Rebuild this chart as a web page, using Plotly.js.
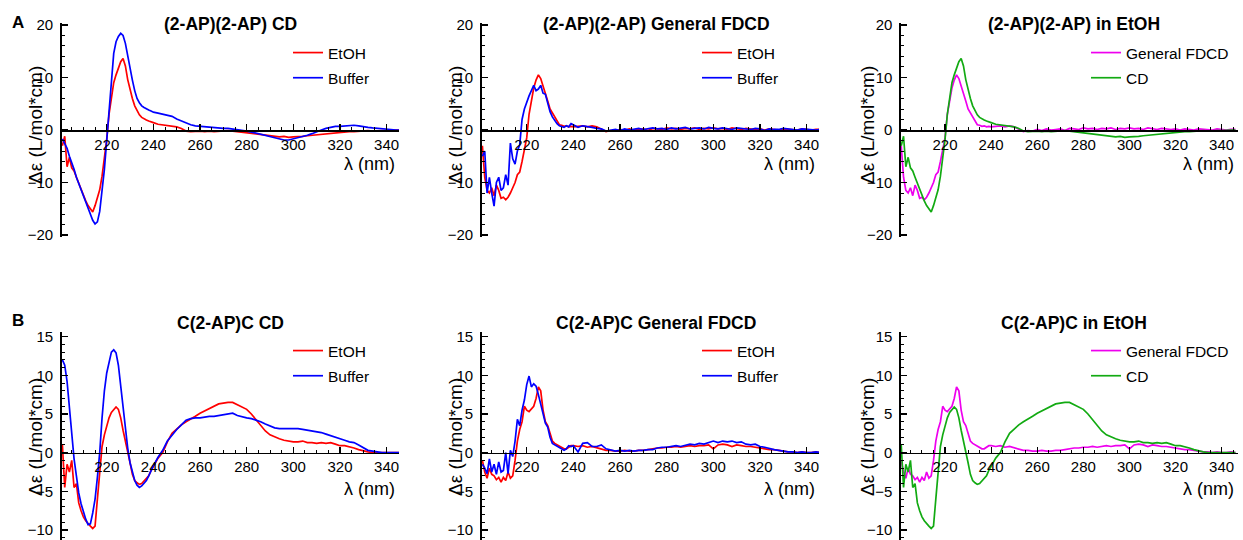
<!DOCTYPE html>
<html><head><meta charset="utf-8">
<script src="https://cdn.plot.ly/plotly-3.0.1.min.js"></script>
<style>html,body{margin:0;padding:0;background:#fff}#chart{width:1243px;height:540px}</style>
</head><body><div id="chart"></div>
<script>
// ---------- DATA ----------
const wavelength = [201,202,203,204,205,206,207,208,209,210,211,212,213,214,215,216,217,218,219,220,
  221,222,223,224,225,226,227,228,229,230,231,232,233,234,235,236,237,238,239,240,
  242,244,246,248,250,252,254,256,258,260,262,264,266,268,270,272,274,276,278,280,
  282,284,286,288,290,292,294,296,298,300,302,304,306,308,310,312,314,316,318,320,
  322,324,326,328,330,332,334,336,338,340,342,344,346];

// (2-AP)(2-AP) CD
const ap2_CD_EtOH = [-3,-1.2,-7,-5.2,-7.2,-7.8,-9,-10.2,-11.4,-12.5,-13.5,-14.4,-15.1,-15.6,-14.4,-13,-11.4,-8.8,-5.4,-1.8,
  3,6.5,9,10.5,11.8,13,13.6,12.2,9.6,7.5,6,4.6,3.6,2.9,2.4,2.1,1.9,1.7,1.5,1.4,
  1.1,1.0,0.9,0.8,0.6,0.3,-0.2,-0.3,-0.2,-0.2,-0.3,-0.2,-0.3,-0.2,-0.2,-0.1,-0.2,-0.3,-0.4,-0.5,
  -0.7,-0.8,-0.9,-1.0,-1.1,-1.2,-1.3,-1.2,-1.4,-1.3,-1.3,-1.2,-1.1,-1.0,-0.9,-0.8,-0.7,-0.6,-0.5,-0.4,
  -0.3,-0.3,-0.3,-0.2,-0.2,-0.1,-0.2,-0.1,-0.1,-0.1,0,0,0];
const ap2_CD_Buffer = [-1.7,-2.5,-3.5,-5,-6.5,-7.5,-9,-10.2,-11.3,-12.3,-13.5,-15,-16.3,-17.2,-17.9,-17.5,-15.5,-12,-7.5,-2,
  4,10,14.6,16.8,17.8,18.4,18,16.5,14,12,9.5,7.5,6,5.2,4.6,4.3,4,3.8,3.6,3.4,
  3.2,3.0,2.9,2.6,2.1,1.7,1.3,1.0,0.8,0.7,0.6,0.6,0.5,0.4,0.3,0.3,0.2,0.1,0,-0.2,
  -0.4,-0.6,-0.9,-1.1,-1.3,-1.5,-1.7,-1.9,-1.9,-1.7,-1.5,-1.2,-1.0,-0.7,-0.3,0,0.3,0.5,0.7,0.7,
  0.8,0.8,0.9,0.8,0.6,0.5,0.4,0.3,0.3,0.2,0.1,0,0];

// (2-AP)(2-AP) General FDCD
const ap2_FDCD_EtOH = [-3,-9,-11.5,-12,-11,-12.5,-10.5,-11.5,-13,-12.8,-13.3,-12.8,-12,-11,-10,-8.5,-8,-6,-4,-1.5,
  3,5.5,8,9.5,10.5,9.8,8.5,7,5.5,4,3.2,2.5,1.8,1.0,0.9,0.7,0.8,0.6,0.7,0.6,
  0.7,0.8,0.6,0.8,0.6,0.1,-0.3,-0.1,-0.2,0.1,-0.1,0.2,0,0.1,0.2,-0.1,0.3,0.2,0.1,0.4,
  0.2,0.3,0.1,0.3,0.2,0.4,0.1,0.3,0.2,0.4,0.2,0.3,0.1,0.4,0.2,0.1,0.3,0.2,0.1,0.2,
  0,0.2,0.1,0,0.2,0.1,0.1,0,0.2,0.1,0,0.1,0.1];
const ap2_FDCD_Buffer = [-5,-4,-12,-9,-12,-14.5,-10,-9,-11.5,-11,-8.5,-10.5,-2.5,-5.5,-6.5,-4,-2.8,2,4,5.5,
  6.5,7.5,8.5,7.5,7.8,8.5,7,6.8,5,3.5,2.5,1.8,1.2,0.8,0.6,0.5,0.8,0.6,1.2,1.0,
  0.5,0.8,0.7,0.5,0.3,0.2,-0.2,-0.1,0.1,-0.1,0.2,0,0.1,0.3,0.1,0.2,0.4,0.2,0.3,0.1,
  0.4,0.2,0.3,0.5,0.2,0.3,0.4,0.2,0.5,0.3,0.2,0.4,0.3,0.1,0.4,0.3,0.2,0.1,0.3,0.2,
  -0.1,0.2,0.1,0.1,0.3,0.2,0.1,0,0.2,0.1,0.1,0,0.1];

// C(2-AP)C CD
const c2c_CD_EtOH = [1,-4.5,-1.5,-2.5,-1,-4.5,-4,-6.5,-7.5,-8.3,-8.8,-9.2,-9.5,-9.8,-9.5,-6,-2,0.8,2.3,3.4,
  4.5,5.2,5.6,5.9,5.6,4.5,2.9,1.6,0.3,-1.3,-2.8,-3.6,-3.9,-4.1,-4.0,-3.7,-3.4,-3.0,-2.3,-1.7,
  -0.7,0,1.4,2.5,3.1,3.6,4.0,4.3,4.7,5.1,5.4,5.7,6.0,6.3,6.4,6.5,6.5,6.2,5.9,5.6,
  5.0,4.3,3.5,2.8,2.3,2.0,1.8,1.6,1.5,1.4,1.4,1.5,1.3,1.3,1.2,1.3,1.2,1.3,1.1,0.9,
  0.9,0.8,0.6,0.4,0.2,0.1,0,0,0,0,0,0,0];
const c2c_CD_Buffer = [12,11.3,9.2,5.8,2.1,-0.8,-3,-5.2,-6.6,-7.7,-8.6,-9.3,-9.2,-7.8,-6,-3.2,0,4.5,8,10.3,
  11.9,13,13.3,12.9,11.3,8.5,5.6,3,0.6,-1.3,-2.6,-3.6,-4.2,-4.5,-4.3,-3.9,-3.6,-3.0,-2.3,-1.7,
  -0.6,0.3,1.5,2.3,3.0,3.6,4.2,4.4,4.5,4.5,4.6,4.7,4.7,4.8,4.9,5.0,5.1,4.8,4.6,4.5,
  4.4,4.2,4.0,3.7,3.4,3.2,3.1,3.1,3.1,3.1,3.1,3.0,2.9,2.8,2.7,2.6,2.4,2.2,1.9,1.8,
  1.6,1.4,1.3,1.0,0.6,0.3,0.2,0.1,0,0,0,0,0];

// C(2-AP)C General FDCD
const c2c_FDCD_EtOH = [-1,-2.5,-3.3,-2,-2.8,-3,-3.5,-3.2,-3.8,-3.2,-3.6,-2.5,-3.3,-3,-1,1.5,3,4,6,5.5,
  5.3,5.6,6,7,8.5,8,5.5,4,3.5,2.5,1.5,1.2,1.0,0.8,0.6,0.5,0.5,0.7,0.9,0.9,
  0.8,0.9,0.7,0.8,0.6,0.5,0.3,0.3,0.2,0.2,0.3,0.2,0.2,0.3,0.3,0.4,0.5,0.6,0.6,0.7,
  0.7,0.8,0.7,0.8,0.9,0.8,0.9,0.9,1.0,0.5,1.0,1.1,1.0,0.8,1.0,0.9,0.8,0.8,0.7,0.6,
  0.5,0.4,0.4,0.3,0.2,0.1,0.1,0,0.1,0,0,0.1,0];
const c2c_FDCD_Buffer = [-1.5,-2,-2.7,-0.8,-2.5,-1.5,-2.8,-1.2,-2.5,-2.3,0,-2.7,0.3,-0.5,1.5,4.3,3.5,5.5,6.8,8.8,
  9.9,8.5,8.9,8.6,7.5,6.2,4.8,3.8,3.3,2,1.2,1.0,0.9,0.6,0.4,0.3,0.5,0.9,0.8,0.9,
  0.1,1.2,1.3,0.8,0.8,1.0,0.5,0.3,0.2,0.3,0.2,0.3,0.2,0.3,0.3,0.4,0.4,0.6,0.7,0.7,
  0.8,0.9,0.8,1.0,1.1,1.0,1.2,1.1,1.3,1.5,1.3,1.5,1.4,1.5,1.3,1.4,1.1,1.0,1.1,0.8,
  0.7,0.5,0.4,0.3,0.2,0.1,0.1,0,0.1,0,0,0.1,0];

const panelTitles = ['(2-AP)(2-AP) CD','(2-AP)(2-AP) General FDCD','(2-AP)(2-AP) in EtOH',
                     'C(2-AP)C CD','C(2-AP)C General FDCD','C(2-AP)C in EtOH'];
const seriesNames = [['EtOH','Buffer'],['EtOH','Buffer'],['General FDCD','CD'],
                     ['EtOH','Buffer'],['EtOH','Buffer'],['General FDCD','CD']];
const panelSeries = [[ap2_CD_EtOH, ap2_CD_Buffer],[ap2_FDCD_EtOH, ap2_FDCD_Buffer],[ap2_FDCD_EtOH, ap2_CD_EtOH],
                     [c2c_CD_EtOH, c2c_CD_Buffer],[c2c_FDCD_EtOH, c2c_FDCD_Buffer],[c2c_FDCD_EtOH, c2c_CD_EtOH]];
const yTitle = 'Δε (L/mol*cm)';
const xTitle = 'λ (nm)';

// ---------- STYLE / LAYOUT ----------
const W = 1243, H = 540;
const FONT = 'Liberation Sans, Arial, Helvetica, sans-serif';
const RED='#ff0000', BLUE='#0000ff', MAG='#ee00ee', GRN='#12aa12';
const panelColors = [[RED,BLUE],[RED,BLUE],[MAG,GRN],[RED,BLUE],[RED,BLUE],[MAG,GRN]];

const colPx = [[61.7,399],[481.7,819],[901,1238]];
const colRange = [[200.7,345.3],[200.7,345.3],[200.9,347.1]];
const rowPx = [[23.4,236.6],[331.6,540]];
const rowRange = [[-20.3,20.3],[-11.29,15.65]];
const rowTick = [[10,2],[5,1]];

const data = [];
const layout = {
  width:W, height:H, margin:{l:0,r:0,t:0,b:0},
  paper_bgcolor:'#fff', plot_bgcolor:'rgba(0,0,0,0)',
  showlegend:true, annotations:[], font:{family:FONT, color:'#000'}
};

for (let p=0;p<6;p++){
  const row = Math.floor(p/3), col = p%3;
  const sfx = p===0 ? '' : String(p+1);
  const xd = [colPx[col][0]/W, colPx[col][1]/W];
  const yd = [1-rowPx[row][1]/H, 1-rowPx[row][0]/H];
  const yr = rowRange[row];
  const zeroPos = yd[0] + (0-yr[0])/(yr[1]-yr[0])*(yd[1]-yd[0]);
  layout['xaxis'+sfx] = {
    domain:xd, range:colRange[col], anchor:'free', position:zeroPos,
    tickmode:'linear', tick0:200, dtick:20,
    ticks:'inside', ticklen:6, tickwidth:1.2, tickcolor:'#000',
    minor:{ticks:'inside', dtick:5, tick0:200, ticklen:3, tickwidth:1, tickcolor:'#000'},
    showline:true, linecolor:'#000', linewidth:1.6, showgrid:false, zeroline:false,
    tickfont:{family:FONT, size:15, color:'#000'}, ticklabelstandoff:0, fixedrange:true
  };
  layout['yaxis'+sfx] = {
    domain:yd, range:yr, anchor:'x'+sfx,
    tickmode:'linear', tick0:0, dtick:rowTick[row][0],
    ticks:'inside', ticklen:6, tickwidth:1.2, tickcolor:'#000',
    minor:{ticks:'inside', dtick:rowTick[row][1], ticklen:3, tickwidth:1, tickcolor:'#000'},
    showline:true, linecolor:'#000', linewidth:1.6, showgrid:false, zeroline:false,
    tickfont:{family:FONT, size:15, color:'#000'}, ticklabelstandoff:4, fixedrange:true
  };
  const lg = p===0 ? 'legend' : 'legend'+(p+1);
  const textStart = [328,737,1126][col];
  const firstItem = row===0 ? 53 : 351;
  layout[lg] = {
    x:(textStart-40)/W, y:1-(firstItem-17)/H, xanchor:'left', yanchor:'top',
    font:{family:FONT, size:15.5, color:'#000'}, bgcolor:'rgba(0,0,0,0)',
    tracegroupgap:2, traceorder:'grouped', borderwidth:0
  };
  for (let s=0;s<2;s++){
    data.push({
      type:'scatter', mode:'lines', x:wavelength, y:panelSeries[p][s],
      name:seriesNames[p][s], xaxis:'x'+sfx, yaxis:'y'+sfx,
      legend:lg, legendgroup:'g'+p+'_'+s,
      line:{color:panelColors[p][s], width:1.7}, hoverinfo:'skip'
    });
  }
  // titles
  const titleX = [230.5,656,1073.5][col];
  const titleY = row===0 ? 24 : 323;
  layout.annotations.push({xref:'paper',yref:'paper',x:titleX/W,y:1-titleY/H,xanchor:'center',yanchor:'middle',
    text:'<b>'+panelTitles[p]+'</b>', showarrow:false, font:{family:FONT,size:17.5,color:'#000'}});
  // y title
  const ytx = [35,455,867][col];
  const yty = row===0 ? 125 : 437;
  layout.annotations.push({xref:'paper',yref:'paper',x:ytx/W,y:1-yty/H,xanchor:'center',yanchor:'middle',
    textangle:-90, text:yTitle, showarrow:false, font:{family:FONT,size:19,color:'#000'}});
  // x title
  const xtx = [397,817,1236][col];
  const xty = row===0 ? 164 : 489;
  layout.annotations.push({xref:'paper',yref:'paper',x:xtx/W,y:1-xty/H,xanchor:'right',yanchor:'middle',
    text:xTitle, showarrow:false, font:{family:FONT,size:18,color:'#000'}});
}
// panel letters
layout.annotations.push({xref:'paper',yref:'paper',x:18/W,y:1-22/H,xanchor:'center',yanchor:'middle',
  text:'<b>A</b>',showarrow:false,font:{family:FONT,size:17,color:'#000'}});
layout.annotations.push({xref:'paper',yref:'paper',x:18/W,y:1-320/H,xanchor:'center',yanchor:'middle',
  text:'<b>B</b>',showarrow:false,font:{family:FONT,size:17,color:'#000'}});

Plotly.newPlot('chart', data, layout, {staticPlot:true, displayModeBar:false});
</script>
</body></html>
